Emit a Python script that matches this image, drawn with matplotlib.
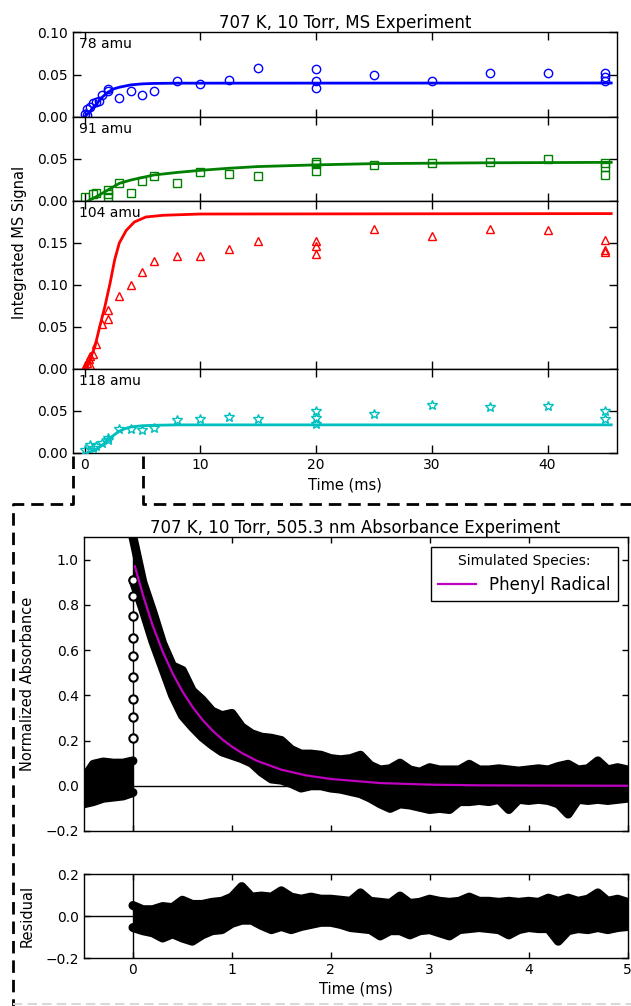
import numpy as np
import matplotlib
matplotlib.use('Agg')
import matplotlib.pyplot as plt
from matplotlib.lines import Line2D

plt.rcParams['font.family'] = ['DejaVu Sans']
plt.rcParams['font.size'] = 10
plt.rcParams['axes.linewidth'] = 1.0

# ---------------- MS experiment data ----------------
ms_labels = ['78 amu', '91 amu', '104 amu', '118 amu']
ms_colors = ['b', 'g', 'r', 'c']
ms_markers = ['o', 's', '^', '*']

t78 = [0, 0.25, 0.25, 0.5, 0.75, 1.0, 1.25, 1.5, 2, 2, 3, 4, 5, 6, 8, 10, 12.5, 15,
       20, 20, 20, 25, 30, 35, 40, 45, 45, 45]
v78 = [0.004, 0.009, 0.002, 0.012, 0.016, 0.018, 0.019, 0.026, 0.033, 0.031, 0.022, 0.031,
       0.026, 0.031, 0.042, 0.039, 0.043, 0.058, 0.057, 0.042, 0.034, 0.049, 0.042, 0.052,
       0.052, 0.052, 0.047, 0.042]
fit78_t = [0, 0.5, 1.0, 1.5, 2.0, 2.5, 3.0, 4.0, 5.0, 6.0, 8.0, 45.5]
fit78_v = [0, 0.007, 0.015, 0.023, 0.029, 0.033, 0.035, 0.0378, 0.039, 0.0395, 0.0398, 0.040]

t91 = [0, 0.75, 1.0, 2, 2, 2, 3, 4, 5, 6, 8, 10, 12.5, 15, 20, 20, 20, 25, 30, 35, 40,
       45, 45, 45]
v91 = [0.005, 0.008, 0.010, 0.013, 0.008, 0.005, 0.021, 0.010, 0.024, 0.030, 0.022, 0.035,
       0.032, 0.030, 0.046, 0.044, 0.036, 0.043, 0.045, 0.047, 0.050, 0.045, 0.040, 0.031]
fit91_t = [0.3, 1, 2, 3, 4, 5, 6, 8, 10, 12.5, 15, 20, 25, 30, 35, 45.5]
fit91_v = [0, 0.005, 0.013, 0.021, 0.025, 0.028, 0.031, 0.034, 0.0365, 0.039, 0.041, 0.043,
           0.0445, 0.045, 0.0455, 0.046]

t104 = [0, 0.25, 0.4, 0.5, 0.5, 0.75, 1.0, 1.5, 2, 2, 3, 4, 5, 6, 8, 10, 12.5, 15,
        20, 20, 20, 25, 30, 35, 40, 45, 45, 45]
v104 = [0.003, 0.007, 0.012, 0.015, 0.005, 0.018, 0.030, 0.054, 0.070, 0.059, 0.087, 0.100,
        0.115, 0.129, 0.134, 0.134, 0.143, 0.152, 0.152, 0.146, 0.137, 0.167, 0.158, 0.167,
        0.165, 0.153, 0.142, 0.139]
fit104_t = [0, 0.45, 0.9, 1.3, 1.75, 2.2, 2.6, 3.0, 3.6, 4.3, 5.3, 6.8, 10, 45.5]
fit104_v = [0, 0.011, 0.027, 0.050, 0.074, 0.102, 0.130, 0.150, 0.165, 0.175, 0.181, 0.183,
            0.1845, 0.185]

t118 = [0, 0.5, 0.75, 1.0, 1.5, 2, 2, 3, 4, 5, 6, 8, 10, 12.5, 15, 20, 20, 20, 25, 30,
        35, 40, 45, 45]
v118 = [0.003, 0.009, 0.006, 0.008, 0.012, 0.016, 0.018, 0.029, 0.029, 0.027, 0.030, 0.039,
        0.041, 0.043, 0.041, 0.050, 0.042, 0.034, 0.047, 0.057, 0.055, 0.056, 0.050, 0.040]
fit118_t = [0.3, 1.0, 1.5, 2.0, 2.5, 3.0, 3.5, 4.0, 5.0, 6.0, 8.0, 45.5]
fit118_v = [0, 0.004, 0.009, 0.015, 0.021, 0.026, 0.029, 0.031, 0.0325, 0.033, 0.0335, 0.0335]

ms_t = [t78, t91, t104, t118]
ms_v = [v78, v91, v104, v118]
fit_t = [fit78_t, fit91_t, fit104_t, fit118_t]
fit_v = [fit78_v, fit91_v, fit104_v, fit118_v]
ms_ylim = [0.10, 0.10, 0.20, 0.10]
ms_yticks = [[0, 0.05, 0.10], [0, 0.05], [0, 0.05, 0.10, 0.15], [0, 0.05]]

# ---------------- absorbance experiment (band edges) ----------------
abs_t_pre = [-0.5, -0.4, -0.3, -0.2, -0.1, 0.0]
abs_pre_hi = [0.03, 0.095, 0.105, 0.10, 0.10, 0.11]
abs_pre_lo = [-0.08, -0.07, -0.055, -0.05, -0.045, -0.03]
abs_rise = [0.21, 0.305, 0.385, 0.48, 0.575, 0.655, 0.75, 0.84, 0.91]

abs_t_post = np.round(np.arange(0, 5.01, 0.1), 2)
abs_post_hi = [1.10, 0.90, 0.77, 0.63, 0.53, 0.51, 0.42, 0.38, 0.33, 0.31,
               0.32, 0.26, 0.23, 0.215, 0.21, 0.20, 0.16, 0.14, 0.14, 0.135,
               0.12, 0.115, 0.12, 0.135, 0.09, 0.07, 0.075, 0.10, 0.07, 0.06,
               0.08, 0.07, 0.07, 0.07, 0.095, 0.07, 0.07, 0.075, 0.07, 0.065,
               0.07, 0.075, 0.07, 0.085, 0.095, 0.07, 0.075, 0.11, 0.07, 0.08, 0.07]
abs_post_lo = [0.91, 0.78, 0.64, 0.52, 0.40, 0.31, 0.26, 0.215, 0.18, 0.15,
               0.135, 0.12, 0.10, 0.06, 0.03, 0.025, 0.01, -0.01, 0.0, 0.0,
               -0.01, -0.015, -0.025, -0.035, -0.055, -0.08, -0.10, -0.08, -0.085, -0.095,
               -0.105, -0.10, -0.105, -0.07, -0.07, -0.065, -0.07, -0.06, -0.105, -0.06,
               -0.065, -0.06, -0.065, -0.08, -0.125, -0.06, -0.065, -0.06, -0.065, -0.06, -0.055]

sim_t = [0.02, 0.1, 0.2, 0.3, 0.4, 0.5, 0.6, 0.7, 0.8, 0.9, 1.0, 1.1, 1.25, 1.5, 1.75,
         2.0, 2.5, 3.0, 3.5, 4.0, 5.0]
sim_v = [0.97, 0.845, 0.708, 0.594, 0.498, 0.417, 0.350, 0.293, 0.246, 0.206, 0.173,
         0.145, 0.111, 0.071, 0.046, 0.030, 0.012, 0.005, 0.002, 0.001, 0.0]

res_hi = [0.05, 0.03, 0.03, 0.045, 0.04, 0.075, 0.055, 0.055, 0.065, 0.07,
          0.09, 0.14, 0.09, 0.095, 0.09, 0.12, 0.09, 0.08, 0.09, 0.08,
          0.08, 0.075, 0.07, 0.11, 0.07, 0.065, 0.06, 0.095, 0.06, 0.065,
          0.08, 0.07, 0.065, 0.07, 0.09, 0.07, 0.07, 0.065, 0.07, 0.065,
          0.07, 0.065, 0.085, 0.07, 0.085, 0.07, 0.08, 0.11, 0.07, 0.08, 0.065]
res_lo = [-0.055, -0.07, -0.08, -0.105, -0.085, -0.105, -0.12, -0.09, -0.07, -0.065,
          -0.035, -0.02, -0.02, -0.045, -0.065, -0.05, -0.065, -0.05, -0.04, -0.03,
          -0.03, -0.04, -0.055, -0.06, -0.065, -0.095, -0.07, -0.07, -0.09, -0.07,
          -0.065, -0.08, -0.095, -0.065, -0.06, -0.055, -0.06, -0.065, -0.09, -0.065,
          -0.055, -0.06, -0.06, -0.12, -0.07, -0.06, -0.065, -0.055, -0.065, -0.055, -0.05]

W, H = 631, 1006
fig = plt.figure(figsize=(W/100, H/100), dpi=100)

def px_axes(l, t, r, b):
    return fig.add_axes([l/W, 1 - b/H, (r - l)/W, (b - t)/H])

def noisy_band(ax, tt, lo, hi):
    # dense trace of heavy circles -> solid black band with rounded edges
    ax.fill_between(tt, lo, hi, color='k', lw=0, zorder=2)
    for edge in (hi, lo):
        ax.plot(tt, edge, '-', color='k', lw=6.5, solid_capstyle='round',
                solid_joinstyle='round', zorder=2)

# ---------------- MS stack ----------------
ms_rows = [(32, 117), (117, 201), (201, 369), (369, 453)]
ms_axes = []
for i, (top, bot) in enumerate(ms_rows):
    ax = px_axes(73, top, 617, bot)
    ms_axes.append(ax)
    col = ms_colors[i]
    ax.plot(fit_t[i], fit_v[i], '-', color=col, lw=2, zorder=2)
    ms = 7.5 if ms_markers[i] == '*' else 6
    ax.plot(ms_t[i], ms_v[i], ms_markers[i], mfc='none', mec=col, ms=ms, mew=1, zorder=3)
    ax.set_xlim(-1, 46)
    ax.set_ylim(0, ms_ylim[i])
    ax.set_yticks(ms_yticks[i])
    ax.set_xticks([0, 10, 20, 30, 40])
    ax.tick_params(direction='in', top=True, right=True, length=5.5, width=1,
                   labelsize=10, labelbottom=(i == 3))
    ax.annotate(ms_labels[i], xy=(0, 1), xycoords='axes fraction', xytext=(4, -3.5),
                textcoords='offset points', ha='left', va='top', fontsize=10)

ms_axes[0].set_title('707 K, 10 Torr, MS Experiment', fontsize=12, pad=2.5)
ms_axes[3].set_xlabel('Time (ms)', fontsize=10.5, labelpad=4)
fig.text(20/W, 1 - 242/H, 'Integrated MS Signal', rotation=90, ha='center', va='center',
         fontsize=10.5)

# ---------------- absorbance ----------------
ax = px_axes(83.5, 537, 627.5, 831)
ax.axhline(0, color='k', lw=1, zorder=1)
ax.axvline(0, color='k', lw=1, zorder=1)
noisy_band(ax, abs_t_pre, abs_pre_lo, abs_pre_hi)
noisy_band(ax, abs_t_post, abs_post_lo, abs_post_hi)
ax.plot([0]*len(abs_rise), abs_rise, 'o', mfc='white', mec='k', ms=6, mew=1.5, zorder=3)
ax.plot(sim_t, sim_v, '-', color='m', lw=1.6, zorder=4, label='Phenyl Radical')
ax.set_xlim(-0.5, 5)
ax.set_ylim(-0.2, 1.1)
ax.set_yticks([-0.2, 0.0, 0.2, 0.4, 0.6, 0.8, 1.0])
ax.set_xticks([0, 1, 2, 3, 4, 5])
ax.tick_params(direction='in', top=True, right=True, length=4, width=1, labelsize=10,
               labelbottom=False)
ax.set_title('707 K, 10 Torr, 505.3 nm Absorbance Experiment', fontsize=12, pad=2)
ax.set_ylabel('Normalized Absorbance', fontsize=10.5)
ax.yaxis.set_label_coords(-0.089, 0.5)
leg = ax.legend(loc='upper right', title='Simulated Species:', fontsize=12,
                title_fontsize=10, fancybox=False, edgecolor='k', framealpha=1,
                handlelength=2.3, borderaxespad=0.6)
leg.get_frame().set_linewidth(1)

# ---------------- residual ----------------
rx = px_axes(83.5, 874, 627.5, 958)
rx.axhline(0, color='k', lw=1, zorder=1)
rx.axvline(0, color='k', lw=1, zorder=1)
noisy_band(rx, abs_t_post, res_lo, res_hi)
rx.set_xlim(-0.5, 5)
rx.set_ylim(-0.2, 0.2)
rx.set_yticks([-0.2, 0.0, 0.2])
rx.set_xticks([0, 1, 2, 3, 4, 5])
rx.tick_params(direction='in', top=True, right=True, length=4, width=1, labelsize=10)
rx.set_xlabel('Time (ms)', fontsize=10.5, labelpad=3)
rx.set_ylabel('Residual', fontsize=10.5)
rx.yaxis.set_label_coords(-0.089, 0.5)

# ---------------- zoom call-out dashes ----------------
def fig_line(xs, ys, **kw):
    fig.add_artist(Line2D([x/W for x in xs], [1 - y/H for y in ys],
                          transform=fig.transFigure, **kw))

dash = dict(color='k', lw=2, linestyle=(0, (4.5, 2.5)))
fig_line([73, 73, 13, 13], [456, 504, 504, 1006], **dash)
fig_line([143, 143, 631], [456, 504, 504], **dash)
fig_line([13, 631], [1004, 1004], color='0.85', lw=1.5, linestyle=(0, (4.5, 2.5)))

fig.savefig('out.png', dpi=100)
